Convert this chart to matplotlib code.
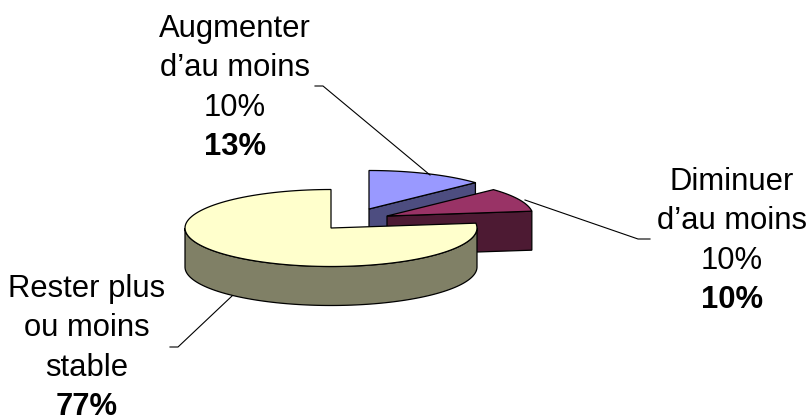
import numpy as np
import matplotlib
matplotlib.use('Agg')
import matplotlib.pyplot as plt
from matplotlib.patches import Polygon

plt.rcParams['font.family'] = ['Liberation Sans', 'DejaVu Sans']

# shares, clockwise from 12 o'clock
names = ["Augmenter\nd\u2019au moins\n10%", "Diminuer\nd\u2019au moins\n10%", "Rester plus\nou moins\nstable"]
shares = [13, 10, 77]
top_colors = ['#9999FF', '#993366', '#FFFFCC']
side_colors = ['#4D4D80', '#4D1A33', '#808066']
# pie slices pulled out of the centre, in pixels
offsets = [(38, -19), (56, -12), (0, 0)]

cx, cy = 331, 228
rx, ry = 146, 38.5
depth = 39

fig = plt.figure(figsize=(8.1, 4.17), dpi=100)
ax = fig.add_axes([0, 0, 1, 1])
ax.set_xlim(0, 810)
ax.set_ylim(417, 0)
ax.axis('off')


def rim(a0, a1, dx, dy, drop=0):
    t = np.radians(np.linspace(a0, a1, 120))
    return np.column_stack([cx + dx + rx * np.sin(t), cy + dy + drop - ry * np.cos(t)])


edges = np.cumsum([0] + shares) * 3.6
for i in range(3):
    a0, a1 = edges[i], edges[i + 1]
    dx, dy = offsets[i]
    apex = np.array([cx + dx, cy + dy])
    if i == 2:
        # big slice: only the front of the outer wall can be seen
        arc = rim(max(a0, 90), 270, dx, dy)
        wall = np.vstack([arc, rim(max(a0, 90), 270, dx, dy, depth)[::-1]])
        ax.add_patch(Polygon(wall, fc=side_colors[i], ec='black', lw=0.9, zorder=i * 2 + 1))
    else:
        # small slices show the cut face at their end angle
        tip = rim(a1, a1, dx, dy)[0]
        face = [apex, tip, tip + [0, depth], apex + [0, depth]]
        ax.add_patch(Polygon(face, fc=side_colors[i], ec='black', lw=0.9, zorder=i * 2 + 1))
    top = np.vstack([apex, rim(a0, a1, dx, dy)])
    ax.add_patch(Polygon(top, fc=top_colors[i], ec='black', lw=0.9, zorder=i * 2 + 2))

# leader lines
ax.plot([315, 323, 430], [86, 86, 175], color='black', lw=0.8, zorder=10)
ax.plot([525, 638, 650], [200, 239, 239], color='black', lw=0.8, zorder=10)
ax.plot([232, 178, 170], [296, 347, 347], color='black', lw=0.8, zorder=10)

# centre x and first baseline of each label
label_pos = [(235, 37), (732, 190), (87, 297)]
line_gap = 39.3
for name, share, (x, y) in zip(names, shares, label_pos):
    lines = name.split('\n')
    for j, line in enumerate(lines):
        ax.text(x, y + j * line_gap, line, ha='center', va='baseline', fontsize=22.3, zorder=11)
    ax.text(x, y + len(lines) * line_gap, f'{share}%', ha='center', va='baseline', fontsize=22.3,
            fontweight='bold', zorder=11)

fig.savefig('out.png', dpi=100)
